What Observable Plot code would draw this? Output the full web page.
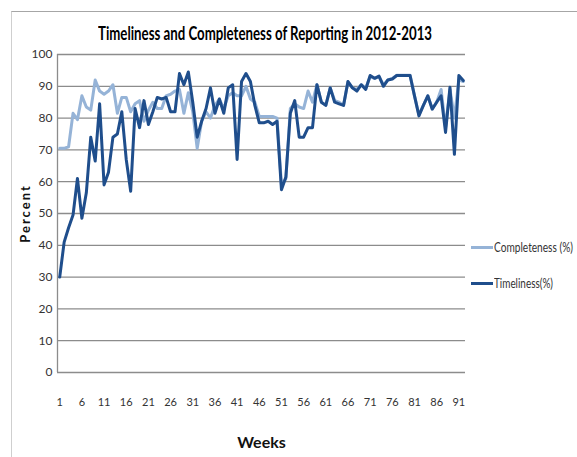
<!DOCTYPE html>
<html><head><meta charset="utf-8">
<script src="https://cdn.jsdelivr.net/npm/d3@7"></script>
<script src="https://cdn.jsdelivr.net/npm/@observablehq/plot@0.6"></script>
<style>
body{margin:0;background:#fff;}
#wrap{position:relative;width:577px;height:457px;overflow:hidden;font-family:Lato,Roboto,sans-serif;}
#frame{position:absolute;left:11px;top:11px;width:600px;height:500px;border-top:1.5px solid #a6a6a6;border-left:1.5px solid #cfcfcf;}
#chart{position:absolute;left:0;top:0;}
#title{position:absolute;left:98px;top:22px;font-weight:bold;font-size:19px;color:#000;white-space:nowrap;transform-origin:0 0;line-height:22px;}
.leg{position:absolute;left:471px;height:14px;font-size:13px;color:#333;white-space:nowrap;}
.sw{position:absolute;left:0;top:6px;width:22px;height:3px;}
.lt{position:absolute;left:23px;top:-1px;line-height:16px;transform-origin:0 50%;}
#chart svg g[aria-label="y-axis label"] text,
#chart svg g[aria-label="x-axis label"] text{font-weight:bold;fill:#111;}
#chart svg g[aria-label="y-axis label"] text{font-size:13px;letter-spacing:2px;}
#chart svg g[aria-label="x-axis label"] text{font-size:16px;}
</style></head>
<body>
<div id="wrap">
<div id="frame"></div>
<div id="chart"></div>
<div id="title"></div>
<div id="legend"></div>
</div>
<script>
const titleText = "Timeliness and Completeness of Reporting in 2012-2013";
const seriesNames = ["Completeness (%)", "Timeliness(%)"];
const seriesColors = ["#95b3d7", "#1f4e8c"];
const weeks = d3.range(1, 93);
const completeness = [70.5,70.5,71,81.5,79.5,87,83.5,82.5,92,88.5,
  87.5,88.5,90.5,81.5,86.5,86.5,82,84.5,85.5,79,
  82.5,85,83,83,87,87.5,88.5,89,81.5,88,
  82,70.5,79,82,80,84,86,83,87,88,
  87,87,90,86,85,80.5,80.5,80.5,80.5,80,
  59,61,83,84.5,83.5,83,88.5,85,90.5,85,
  84,89.5,85.5,85,84,91.5,89.5,89,90.5,89.5,
  93,92.5,93,90.5,92,92.5,93.5,93.5,93.5,93.5,
  87,81,84,87,83,85,89,77,89,80,
  92,91.5];
const timeliness = [30,41,45.5,49.5,61,48.5,56.5,74,66.5,84.5,
  59,63,74,75,82,67,57,83,77,85.5,
  78,82,86.5,86,86.5,82,82,94,90.5,94.5,
  85,74,79,83,89.5,81.5,86,81.5,89.5,90.5,
  67,91.5,94,91.5,84,78.5,78.5,79,78,79,
  57.5,61.5,81.5,85.5,74,74,77,77,90.5,85,
  84,89.5,85,84.5,84,91.5,89.5,88.5,90.5,89,
  93.4,92.5,93.2,90,92,92.3,93.4,93.4,93.4,93.4,
  87,80.7,84,87,82.8,85,87,75.5,89.7,68.6,
  93.4,91.8];
const yTicks = d3.range(0, 101, 10);
const xTicks = d3.range(1, 92, 5);
const xLabel = "Weeks";
const yLabel = "Percent";

const data = weeks.flatMap((w, i) => [
  {week: w, value: completeness[i], series: seriesNames[0]},
  {week: w, value: timeliness[i], series: seriesNames[1]}
]);

const chart = Plot.plot({
  width: 577, height: 457,
  marginLeft: 57, marginRight: 112, marginTop: 54, marginBottom: 85,
  x: {domain: [0.5, 92.5]},
  y: {domain: [0, 100]},
  color: {domain: seriesNames, range: seriesColors},
  style: {fontFamily: "Lato, Roboto, sans-serif", fontSize: "12px", color: "#333", background: "transparent"},
  marks: [
    Plot.ruleY(yTicks, {stroke: "#8c8c8c", strokeWidth: 1.3}),
    Plot.ruleX([0.5], {stroke: "#8c8c8c", strokeWidth: 1.3}),
    Plot.axisY({ticks: yTicks, tickSize: 0, tickPadding: 5, fontSize: 12,
      label: yLabel, labelAnchor: "center", labelArrow: "none", labelOffset: 37}),
    Plot.axisX({ticks: xTicks, tickSize: 0, tickPadding: 26, fontSize: 11,
      label: xLabel, labelAnchor: "center", labelArrow: "none", labelOffset: 75}),
    Plot.line(data, {x: "week", y: "value", stroke: "series", z: "series", strokeWidth: 3, strokeLinejoin: "round"})
  ]
});
document.getElementById("chart").appendChild(chart);

function fitWidth(el, target) {
  el.style.display = "inline-block";
  const w = el.getBoundingClientRect().width;
  if (w > 0) el.style.transform = `scaleX(${target / w})`;
}

const title = document.getElementById("title");
title.textContent = titleText;
fitWidth(title, 334);

const legend = document.getElementById("legend");
const tops = [240, 276];
const widths = [79, 59];
seriesNames.forEach((name, i) => {
  const row = document.createElement("div");
  row.className = "leg";
  row.style.top = tops[i] + "px";
  row.innerHTML = `<span class="sw" style="background:${seriesColors[i]}"></span><span class="lt">${name}</span>`;
  legend.appendChild(row);
  fitWidth(row.querySelector(".lt"), widths[i]);
});
</script>
</body></html>
